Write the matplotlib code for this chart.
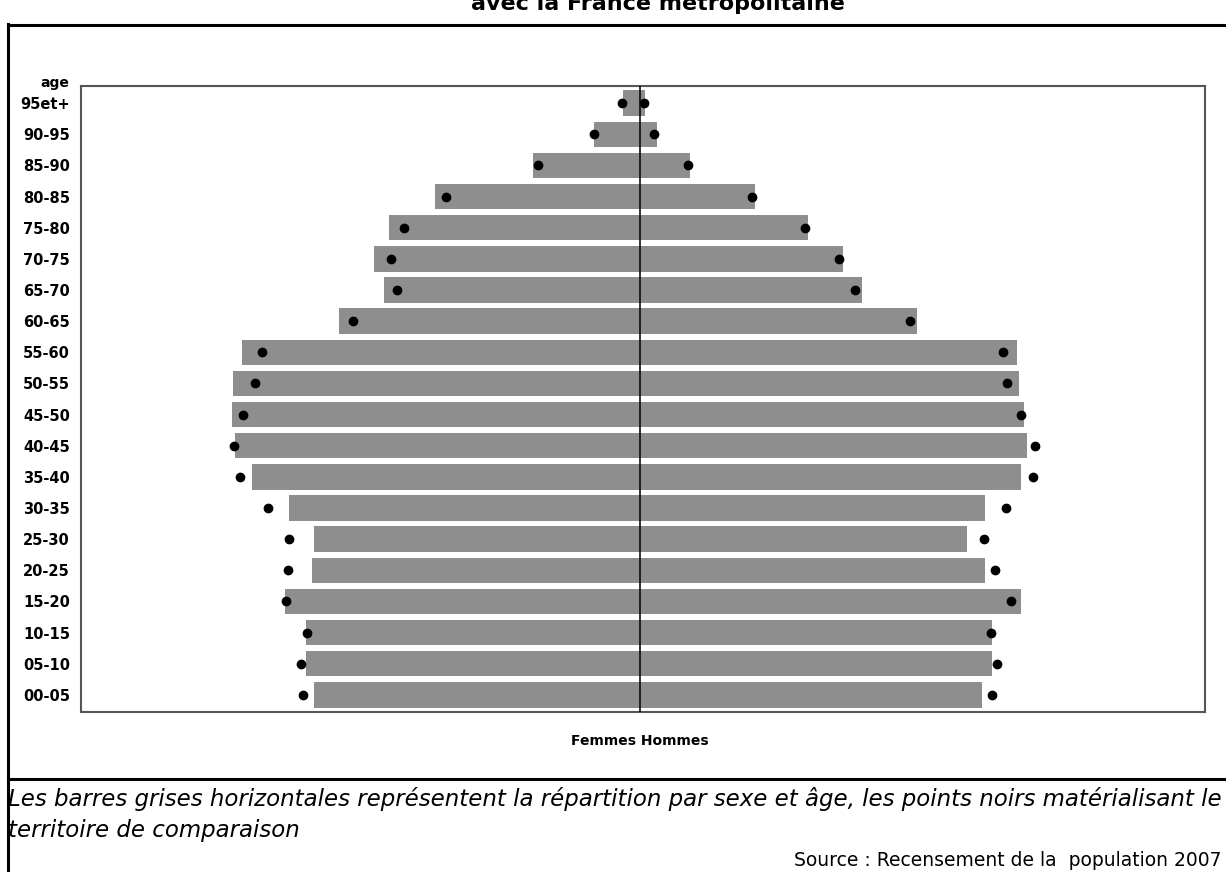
import numpy as np
import matplotlib
matplotlib.use("Agg")
import matplotlib.pyplot as plt
from matplotlib.lines import Line2D

# Age groups, from top to bottom
ages = ["95et+", "90-95", "85-90", "80-85", "75-80", "70-75", "65-70", "60-65",
        "55-60", "50-55", "45-50", "40-45", "35-40", "30-35", "25-30", "20-25",
        "15-20", "10-15", "05-10", "00-05"]

# share of population (%) - territory (grey bars)
femmes = [0.16, 0.44, 1.03, 1.97, 2.41, 2.55, 2.46, 2.89,
          3.82, 3.91, 3.92, 3.89, 3.73, 3.37, 3.13, 3.15,
          3.41, 3.21, 3.21, 3.13]
hommes = [0.05, 0.16, 0.48, 1.11, 1.62, 1.95, 2.13, 2.66,
          3.62, 3.64, 3.69, 3.72, 3.66, 3.32, 3.14, 3.32,
          3.66, 3.38, 3.38, 3.29]

# France metropolitaine (black dots)
femmes_ref = [0.17, 0.44, 0.98, 1.86, 2.27, 2.39, 2.33, 2.76,
              3.63, 3.70, 3.81, 3.90, 3.84, 3.57, 3.37, 3.38,
              3.40, 3.20, 3.26, 3.24]
hommes_ref = [0.04, 0.14, 0.46, 1.08, 1.59, 1.91, 2.07, 2.60,
              3.49, 3.53, 3.66, 3.80, 3.78, 3.52, 3.31, 3.41,
              3.57, 3.37, 3.43, 3.38]

W, H = 1226, 872
fig = plt.figure(figsize=(W / 100, H / 100), dpi=100)

# frame lines of the page
fig.add_artist(Line2D([8 / W, 8 / W], [0, 1 - 24 / H], color="black", lw=2.2,
                      transform=fig.transFigure))
fig.add_artist(Line2D([8 / W, 1], [1 - 25 / H, 1 - 25 / H], color="black", lw=2.2,
                      transform=fig.transFigure))
fig.add_artist(Line2D([8 / W, 1], [1 - 779 / H, 1 - 779 / H], color="black", lw=2.2,
                      transform=fig.transFigure))

# title (cut at top of the picture, as in the original page)
fig.text(658 / W, 1 - 10 / H, "avec la France métropolitaine", ha="center",
         va="baseline", fontsize=16, fontweight="bold", family="DejaVu Sans")

ax = fig.add_axes([81 / W, 1 - 712 / H, (1205 - 81) / W, (712 - 86) / H])

y = np.arange(len(ages))
gris = "#8e8e8e"
ax.barh(y, -np.array(femmes), height=0.82, color=gris, zorder=2)
ax.barh(y, hommes, height=0.82, color=gris, zorder=2)
ax.plot(-np.array(femmes_ref), y, "o", color="black", ms=6, zorder=4)
ax.plot(hommes_ref, y, "o", color="black", ms=6, zorder=4)
ax.axvline(0, color="black", lw=1.1, zorder=3)

ax.set_xlim(-5.37, 5.43)
ax.set_ylim(len(ages) - 0.45, -0.55)
ax.set_yticks(y)
ax.set_yticklabels(ages, fontsize=10.5, fontweight="bold")
ax.set_xticks([])
ax.tick_params(axis="y", length=0, pad=8)
for s in ax.spines.values():
    s.set_color("#555555")
    s.set_linewidth(1.5)

fig.text(69 / W, 1 - 83 / H, "age", ha="right", va="center", fontsize=10,
         fontweight="bold")
fig.text(640 / W, 1 - 741 / H, "Femmes Hommes", ha="center", va="center",
         fontsize=10, fontweight="bold")

# notes
fig.text(8 / W, 1 - 806 / H,
         "Les barres grises horizontales représentent la répartition par sexe et âge, "
         "les points noirs matérialisant le",
         ha="left", va="baseline", fontsize=16.5, style="italic")
fig.text(8 / W, 1 - 837 / H, "territoire de comparaison", ha="left",
         va="baseline", fontsize=16.5, style="italic")
fig.text(1222 / W, 1 - 866 / H, "Source : Recensement de la  population 2007",
         ha="right", va="baseline", fontsize=13.5)

fig.savefig("out.png", dpi=100)
